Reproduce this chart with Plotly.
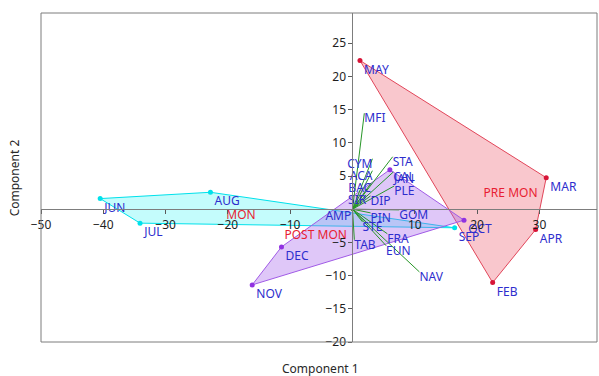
import plotly.graph_objects as go

# ---- data ----
months = ["JAN", "FEB", "MAR", "APR", "MAY", "JUN", "JUL", "AUG", "SEP", "OCT", "NOV", "DEC"]
month_pc1 = [6.0, 22.5, 31.1, 29.4, 1.2, -40.5, -34.1, -22.8, 16.4, 17.9, -16.1, -11.4]
month_pc2 = [5.95, -11.05, 4.75, -3.07, 22.4, 1.6, -2.1, 2.55, -2.8, -1.65, -11.4, -5.68]
month_season = ["POST MON", "PRE MON", "PRE MON", "PRE MON", "PRE MON", "MON",
                "MON", "MON", "MON", "POST MON", "POST MON", "POST MON"]

seasons = ["PRE MON", "MON", "POST MON"]

variables = ["MFI", "CYM", "ACA", "BAC", "SIR", "STA", "CAL", "PLE", "DIP",
             "AMP", "GOM", "PIN", "STE", "FRA", "EUN", "NAV", "TAB"]
load_pc1 = [1.9, 3.2, 3.2, 3.0, 2.2, 6.45, 6.55, 6.7, 2.9,
            -0.2, 7.5, 2.9, 1.6, 5.6, 5.4, 10.75, 0.3]
load_pc2 = [14.45, 7.6, 5.8, 3.95, 2.15, 7.9, 5.6, 3.5, 2.0,
            -0.25, -0.1, -0.55, -1.9, -3.7, -5.5, -9.45, -4.6]

x_ticks = [-50, -40, -30, -20, -10, 10, 20, 30]
y_ticks = [-20, -15, -10, -5, 5, 10, 15, 20, 25]

# ---- styles ----
x_range = [-50, 39.25]
y_range = [-20, 29.55]
FONT = "Noto Sans"
label_blue = "rgb(45,45,205)"
season_red = "rgb(232,30,50)"
season_style = {
    "PRE MON": dict(marker="rgb(215,20,55)", line="rgb(225,70,90)", fill="rgba(240,115,130,0.40)", pos="bottom right"),
    "MON": dict(marker="rgb(0,225,235)", line="rgb(0,225,235)", fill="rgba(70,245,245,0.32)", pos="bottom right"),
    "POST MON": dict(marker="rgb(145,50,225)", line="rgb(160,90,230)", fill="rgba(165,100,235,0.36)", pos="bottom left"),
}
left_labelled = {"CYM", "ACA", "BAC", "SIR", "AMP"}


def convex_hull(pts):
    pts = sorted(set(pts))
    if len(pts) <= 2:
        return pts

    def cross(o, a, b):
        return (a[0] - o[0]) * (b[1] - o[1]) - (a[1] - o[1]) * (b[0] - o[0])

    lower, upper = [], []
    for p in pts:
        while len(lower) >= 2 and cross(lower[-2], lower[-1], p) <= 0:
            lower.pop()
        lower.append(p)
    for p in reversed(pts):
        while len(upper) >= 2 and cross(upper[-2], upper[-1], p) <= 0:
            upper.pop()
        upper.append(p)
    return lower[:-1] + upper[:-1]


fig = go.Figure()

# hulls
for s in seasons:
    pts = [(x, y) for x, y, g in zip(month_pc1, month_pc2, month_season) if g == s]
    hull = convex_hull(pts)
    hx = [p[0] for p in hull] + [hull[0][0]]
    hy = [p[1] for p in hull] + [hull[0][1]]
    st = season_style[s]
    fig.add_trace(go.Scatter(x=hx, y=hy, mode="lines", fill="toself",
                             fillcolor=st["fill"], line=dict(color=st["line"], width=1),
                             hoverinfo="skip", showlegend=False))

# loading vectors
lx, ly = [], []
for a, b in zip(load_pc1, load_pc2):
    lx += [0, a, None]
    ly += [0, b, None]
fig.add_trace(go.Scatter(x=lx, y=ly, mode="lines",
                         line=dict(color="rgb(40,150,40)", width=1),
                         hoverinfo="skip", showlegend=False))

# variable labels
fig.add_trace(go.Scatter(
    x=load_pc1, y=load_pc2, mode="text", text=variables,
    textposition=["bottom left" if v in left_labelled else "bottom right" for v in variables],
    textfont=dict(family=FONT, size=12, color=label_blue),
    showlegend=False))

# month markers + labels
for s in seasons:
    idx = [i for i, g in enumerate(month_season) if g == s]
    fig.add_trace(go.Scatter(
        x=[month_pc1[i] for i in idx], y=[month_pc2[i] for i in idx],
        mode="markers+text", text=[months[i] for i in idx],
        textposition="bottom right",
        marker=dict(color=season_style[s]["marker"], size=5),
        textfont=dict(family=FONT, size=12, color=label_blue),
        showlegend=False))

# season labels at group means
for s in seasons:
    xs = [x for x, g in zip(month_pc1, month_season) if g == s]
    ys = [y for y, g in zip(month_pc2, month_season) if g == s]
    fig.add_trace(go.Scatter(
        x=[sum(xs) / len(xs)], y=[sum(ys) / len(ys)], mode="text", text=[s],
        textposition=season_style[s]["pos"],
        textfont=dict(family=FONT, size=12, color=season_red),
        showlegend=False))

xpos = (0 - y_range[0]) / (y_range[1] - y_range[0])
ypos = (0 - x_range[0]) / (x_range[1] - x_range[0])

axis_common = dict(showgrid=False, zeroline=False, showline=True, linecolor="rgb(125,125,125)",
                   linewidth=1, ticks="outside", ticklen=4, tickcolor="rgb(90,90,90)",
                   tickfont=dict(family=FONT, size=12, color="rgb(30,30,30)"), anchor="free")

fig.update_layout(
    width=599, height=376,
    margin=dict(l=41, r=2, t=13, b=34),
    paper_bgcolor="white", plot_bgcolor="white",
    showlegend=False,
    xaxis=dict(range=x_range, tickvals=x_ticks, position=xpos, **axis_common),
    yaxis=dict(range=y_range, tickvals=y_ticks, position=ypos, **axis_common),
    shapes=[dict(type="rect", xref="paper", yref="paper", x0=0, x1=1, y0=0, y1=1,
                 line=dict(color="rgb(125,125,125)", width=1), layer="above")],
    annotations=[
        dict(text="Component 1", xref="paper", yref="paper", x=0.503, y=-0.08,
             xanchor="center", yanchor="middle", showarrow=False,
             font=dict(family=FONT, size=12, color="rgb(40,40,40)")),
        dict(text="Component 2", xref="paper", yref="paper", x=-0.047, y=0.5,
             xanchor="center", yanchor="middle", showarrow=False, textangle=-90,
             font=dict(family=FONT, size=12, color="rgb(40,40,40)")),
    ],
)

fig.write_html("out.html")
